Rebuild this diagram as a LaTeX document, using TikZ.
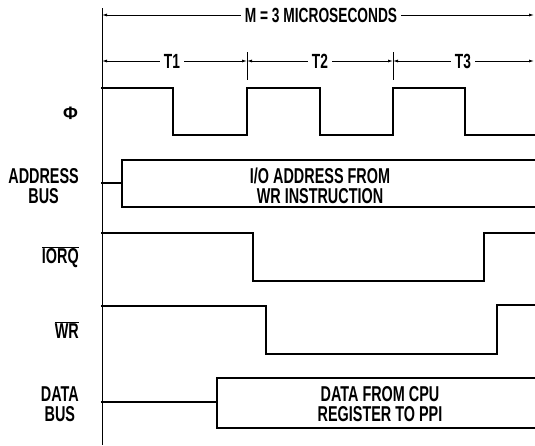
\documentclass[tikz,border=0pt]{standalone}
\usepackage{fontspec}
\usetikzlibrary{arrows.meta}
\newfontfamily\lab{Liberation Sans Bold}[FakeStretch=0.67]
\newfontfamily\phifont{Liberation Sans Bold}
\tikzset{
  sig/.style={line width=2.6pt, line join=miter, line cap=rect},
  thin/.style={line width=0.8pt},
  dim/.style={line width=0.8pt, {Latex[length=5pt,width=3pt]}-{Latex[length=5pt,width=3pt]}},
  lbl/.style={font=\lab\fontsize{21.5}{20.5}\selectfont, align=center, inner sep=0pt},
  dimlbl/.style={font=\lab\fontsize{20.5}{20}\selectfont, fill=white, inner xsep=4pt, inner ysep=1pt},
}
\begin{document}
\begin{tikzpicture}[x=1pt,y=-1pt]
\useasboundingbox (0,0) rectangle (535,445);
% axis
\coordinate (top) at (102,8);
\coordinate (bot) at (102,445);
\draw[thin] (top) -- (bot);
\coordinate (t1) at (247,52);
\coordinate (t1b) at (247,80);
\coordinate (t2) at (393,52);
\coordinate (t2b) at (393,80);
\draw[thin] (t1) -- (t1b);
\draw[thin] (t2) -- (t2b);
% M dimension
\coordinate (ml) at (102,15);
\coordinate (mr) at (534,15);
\draw[dim] (ml) -- (mr);
\node[dimlbl] (mlab) at (321,15) {M = 3 MICROSECONDS};
% T dimensions
\coordinate (a0) at (102,61);
\coordinate (a1) at (247,61);
\coordinate (a2) at (393,61);
\coordinate (a3) at (534,61);
\draw[dim] (a0) -- (a1);
\draw[dim] (a1) -- (a2);
\draw[dim] (a2) -- (a3);
\node[dimlbl] (T1) at (172,61) {T1};
\node[dimlbl] (T2) at (320,61) {T2};
\node[dimlbl] (T3) at (463,61) {T3};
% labels
\node[lbl, anchor=east, font=\phifont\fontsize{18}{18}\selectfont] (phi) at (78,113) {Φ};
\node[lbl, anchor=east] (ab) at (79,186) {ADDRESS\\BUS};
\node[lbl, anchor=east] (iorq) at (79,257) {$\overline{\hbox{\lab\fontsize{21.5}{20.5}\selectfont IORQ}}$};
\node[lbl, anchor=east] (wr) at (79,330) {$\overline{\hbox{\lab\fontsize{21.5}{20.5}\selectfont WR}}$};
\node[lbl, anchor=east] (db) at (79,404) {DATA\\BUS};
% Phi clock
\draw[sig] (102,88) -- (173,88) -- (173,135) -- (247,135) -- (247,88) -- (320,88) -- (320,135) -- (393,135) -- (393,88) -- (465,88) -- (465,135) -- (535,135);
% address bus
\draw[sig] (102,183) -- (122,183);
\draw[sig] (536,160) -- (122,160) -- (122,207) -- (536,207);
\node[lbl] (abtxt) at (320,186) {I/O ADDRESS FROM\\WR INSTRUCTION};
% IORQ
\draw[sig] (102,233) -- (253,233) -- (253,281) -- (484,281) -- (484,233) -- (536,233);
% WR
\draw[sig] (102,306) -- (266,306) -- (266,354) -- (497,354) -- (497,305) -- (536,305);
% data bus
\draw[sig] (102,402) -- (217,402);
\draw[sig] (536,378) -- (217,378) -- (217,428) -- (536,428);
\node[lbl] (dbtxt) at (380,404) {DATA FROM CPU\\REGISTER TO PPI};
\end{tikzpicture}
\end{document}
